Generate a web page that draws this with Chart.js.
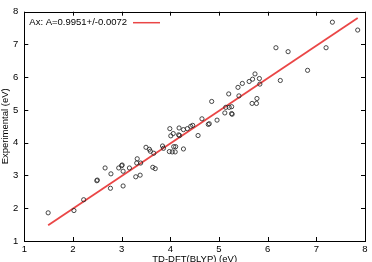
<!DOCTYPE html>
<html>
<head>
<meta charset="utf-8">
<script src="https://cdn.jsdelivr.net/npm/chart.js@4"></script>
<style>
  html, body { margin: 0; padding: 0; background: #fff; }
  canvas { display: block; }
</style>
</head>
<body>
<canvas id="fitChart" width="372" height="262"></canvas>
<script>
// 数据：TD-DFT(BLYP) 计算值 vs 实验值 (eV)
const calcX = [
  1.49, 2.02, 2.22, 2.49, 2.50, 2.66, 2.78, 2.77, 2.94, 3.00,
  3.01, 3.03, 3.03, 3.16, 3.29, 3.38, 3.31, 3.32, 3.39, 3.50,
  3.57, 3.59, 3.64, 3.69, 3.66, 3.84, 3.86, 3.98, 4.04, 4.07,
  4.11, 4.10, 4.27, 3.99, 4.01, 4.06, 4.18, 4.17, 4.19, 4.27,
  4.35, 4.42, 4.46, 4.57, 4.65, 4.78, 4.80, 4.96, 4.85, 5.12,
  5.26, 5.27, 5.14, 5.21, 5.26, 5.20, 5.41, 5.39, 5.48, 5.62,
  5.69, 5.74, 5.83, 5.84, 5.78, 5.77, 5.68, 6.17, 6.42, 6.26,
  6.82, 7.20, 7.33, 7.85
];
const exptY = [
  1.86, 1.93, 2.26, 2.84, 2.86, 3.23, 3.05, 2.61, 3.23, 3.30,
  3.32, 3.13, 2.68, 3.23, 2.96, 3.01, 3.38, 3.51, 3.38, 3.86,
  3.80, 3.74, 3.25, 3.21, 3.68, 3.90, 3.83, 3.73, 3.72, 3.88,
  3.88, 3.72, 3.81, 4.43, 4.21, 4.28, 4.45, 4.24, 4.22, 4.40,
  4.43, 4.50, 4.53, 4.22, 4.73, 4.56, 4.58, 4.69, 5.26, 4.91,
  4.89, 4.87, 5.08, 5.08, 5.10, 5.49, 5.43, 5.69, 5.81, 5.87,
  5.94, 6.10, 5.96, 5.79, 5.35, 5.20, 5.20, 6.90, 6.78, 5.90,
  6.21, 6.90, 7.68, 7.44
];

// 拟合直线 y = A x 的两个端点
const fitX = [1.49, 7.85];
const fitY = [1.48, 7.81];
const fitLabel = 'Ax: A=0.9951+/-0.0072';

// 坐标轴刻度
const xTicks = [1, 2, 3, 4, 5, 6, 7, 8];
const yTicks = [1, 2, 3, 4, 5, 6, 7, 8];

const FONT = "'Liberation Sans', Arial, Helvetica, sans-serif";
const FONT_SIZE = 9.5;

// 画边框、向内的刻度线和左上角的图例
const framePlugin = {
  id: 'frame',
  afterDraw(chart) {
    const { ctx, chartArea: a, scales } = chart;
    const tick = 4;
    ctx.save();
    ctx.strokeStyle = '#000';
    ctx.lineWidth = 1;
    ctx.beginPath();
    xTicks.forEach(v => {
      const px = Math.round(scales.x.getPixelForValue(v)) + 0.5;
      ctx.moveTo(px, a.bottom); ctx.lineTo(px, a.bottom - tick);
      ctx.moveTo(px, a.top); ctx.lineTo(px, a.top + tick);
    });
    yTicks.forEach(v => {
      const py = Math.round(scales.y.getPixelForValue(v)) + 0.5;
      ctx.moveTo(a.left, py); ctx.lineTo(a.left + tick, py);
      ctx.moveTo(a.right, py); ctx.lineTo(a.right - tick, py);
    });
    ctx.stroke();
    ctx.strokeRect(Math.round(a.left) + 0.5, Math.round(a.top) + 0.5,
      Math.round(a.right - a.left), Math.round(a.bottom - a.top));

    // 图例
    ctx.font = FONT_SIZE + 'px ' + FONT;
    ctx.fillStyle = '#000';
    ctx.textBaseline = 'middle';
    ctx.textAlign = 'left';
    const ly = a.top + 10.5;
    ctx.fillText(fitLabel, a.left + 5, ly);
    ctx.strokeStyle = 'rgba(232,50,50,0.9)';
    ctx.lineWidth = 1.5;
    ctx.beginPath();
    ctx.moveTo(133, ly + 0.5);
    ctx.lineTo(160, ly + 0.5);
    ctx.stroke();
    ctx.restore();
  }
};

new Chart(document.getElementById('fitChart').getContext('2d'), {
  type: 'scatter',
  data: {
    datasets: [
      {
        label: fitLabel,
        type: 'line',
        data: fitX.map((x, i) => ({ x: x, y: fitY[i] })),
        borderColor: 'rgba(232,50,50,0.9)',
        borderWidth: 1.8,
        pointRadius: 0,
        fill: false,
        order: 2
      },
      {
        label: 'data',
        data: calcX.map((x, i) => ({ x: x, y: exptY[i] })),
        pointStyle: 'circle',
        pointRadius: 2.1,
        borderWidth: 1,
        borderColor: 'rgba(40,40,40,0.85)',
        backgroundColor: 'rgba(255,255,255,0)',
        order: 1
      }
    ]
  },
  options: {
    responsive: false,
    animation: false,
    layout: { padding: { top: 6, right: 7, left: 0, bottom: 0 } },
    plugins: {
      legend: { display: false },
      tooltip: { enabled: false }
    },
    scales: {
      x: {
        type: 'linear',
        min: 1,
        max: 8,
        afterBuildTicks: s => { s.ticks = xTicks.map(v => ({ value: v })); },
        afterFit: s => { s.height = 21; },
        grid: { display: false, drawTicks: false },
        border: { display: false },
        ticks: {
          padding: 3,
          color: '#000',
          font: { family: FONT, size: FONT_SIZE },
          maxRotation: 0
        },
        title: {
          display: true,
          text: 'TD-DFT(BLYP) (eV)',
          color: '#000',
          font: { family: FONT, size: FONT_SIZE },
          padding: { top: 0, bottom: -2.7 }
        }
      },
      y: {
        type: 'linear',
        min: 1,
        max: 8,
        afterBuildTicks: s => { s.ticks = yTicks.map(v => ({ value: v })); },
        afterFit: s => { s.width = 24.3; },
        grid: { display: false, drawTicks: false },
        border: { display: false },
        ticks: {
          padding: 6,
          color: '#000',
          font: { family: FONT, size: FONT_SIZE }
        },
        title: {
          display: true,
          text: 'Experimental (eV)',
          color: '#000',
          font: { family: FONT, size: FONT_SIZE },
          padding: { top: 0, bottom: 0 }
        }
      }
    }
  },
  plugins: [framePlugin]
});
</script>
</body>
</html>
